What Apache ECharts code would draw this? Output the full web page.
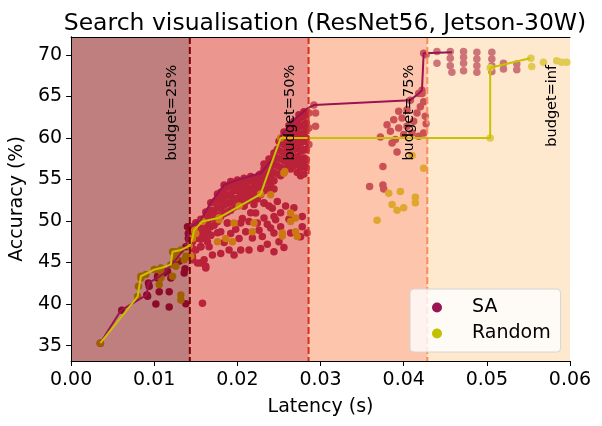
<!DOCTYPE html>
<html>
<head>
<meta charset="utf-8">
<script src="https://cdn.jsdelivr.net/npm/echarts@6/dist/echarts.min.js"></script>
<style>
  html, body { margin: 0; padding: 0; background: #fff; }
  #main { width: 602px; height: 426px; }
</style>
</head>
<body>
<div id="main"></div>
<script>
// points: [latency (s), accuracy (%)]
var saPoints = [
  [0.00352, 35.3], [0.0061, 39.25], [0.0091, 41.1], [0.0092, 40.95], [0.0102, 40.0], [0.0118, 39.65],
  [0.0118, 41.5], [0.0106, 41.5], [0.0138, 40.05], [0.0136, 43.75], [0.0137, 44.25], [0.0120, 43.15],
  [0.0104, 43.35], [0.0094, 42.15], [0.0093, 42.55], [0.0104, 43.15], [0.0112, 43.75], [0.0126, 45.35],
  [0.0138, 46.9], [0.0141, 48.5], [0.0140, 49.3], [0.0141, 47.9], [0.0116, 43.95], [0.0130, 45.15],
  [0.0144, 49.3], [0.0150, 49.8], [0.0156, 50.2], [0.0162, 51.1], [0.0168, 52.2], [0.0176, 53.25],
  [0.0184, 54.35], [0.0192, 54.75], [0.0200, 54.95], [0.0208, 55.15], [0.0216, 55.35], [0.0226, 55.55],
  [0.0232, 56.85], [0.0238, 57.45], [0.0244, 58.2], [0.0250, 59.6], [0.0256, 60.7], [0.0262, 61.5],
  [0.0268, 62.0], [0.0274, 62.8], [0.0280, 63.15],
  [0.0146, 48.5], [0.0146, 47.5], [0.0146, 46.7], [0.0146, 45.7],
  [0.0150, 48.9], [0.0150, 47.9], [0.0150, 46.5],
  [0.0156, 49.5], [0.0156, 48.6], [0.0156, 47.8], [0.0156, 46.9],
  [0.0160, 50.1], [0.0160, 49.1], [0.0160, 48.1],
  [0.0164, 50.7], [0.0164, 49.7], [0.0164, 48.8], [0.0164, 47.5],
  [0.0168, 51.3], [0.0168, 50.3], [0.0168, 49.3], [0.0168, 48.3],
  [0.0172, 52.3], [0.0172, 51.3], [0.0172, 50.5], [0.0172, 49.5],
  [0.0176, 52.7], [0.0176, 51.7], [0.0176, 50.7], [0.0176, 49.9],
  [0.0180, 53.45], [0.0180, 52.45], [0.0180, 51.5], [0.0180, 50.5], [0.0180, 48.7],
  [0.0184, 53.65], [0.0184, 52.85], [0.0184, 51.9], [0.0184, 50.9],
  [0.0188, 54.05], [0.0188, 53.05], [0.0188, 52.1], [0.0188, 51.1], [0.0188, 49.75],
  [0.0192, 54.25], [0.0192, 53.25], [0.0192, 52.3], [0.0192, 51.3],
  [0.0196, 54.45], [0.0196, 53.65], [0.0196, 52.65], [0.0196, 51.7],
  [0.0200, 54.55], [0.0200, 53.65], [0.0200, 52.75], [0.0200, 51.9],
  [0.0204, 54.65], [0.0204, 53.85], [0.0204, 53.05], [0.0204, 52.1], [0.0204, 49.75],
  [0.0208, 54.45], [0.0208, 53.65], [0.0208, 52.85], [0.0208, 51.8],
  [0.0212, 54.85], [0.0212, 54.05], [0.0212, 53.25], [0.0212, 52.45],
  [0.0216, 54.85], [0.0216, 53.85], [0.0216, 53.05],
  [0.0220, 55.05], [0.0220, 54.25], [0.0220, 53.45], [0.0220, 52.65], [0.0220, 52.0],
  [0.0224, 55.25], [0.0224, 54.45], [0.0224, 53.65], [0.0224, 52.65],
  [0.0228, 55.65], [0.0228, 54.85], [0.0228, 54.05], [0.0228, 53.15],
  [0.0232, 56.25], [0.0232, 55.45], [0.0232, 54.65], [0.0232, 53.65], [0.0232, 52.2],
  [0.0236, 56.65], [0.0236, 55.85], [0.0236, 54.85], [0.0236, 53.85],
  [0.0240, 57.25], [0.0240, 56.25], [0.0240, 55.45], [0.0240, 54.45],
  [0.0244, 57.8], [0.0244, 56.85], [0.0244, 55.85], [0.0244, 54.85], [0.0244, 53.85],
  [0.0248, 58.6], [0.0248, 57.6], [0.0248, 56.65], [0.0248, 55.65], [0.0248, 52.35],
  [0.0252, 59.4], [0.0252, 58.4], [0.0252, 57.45], [0.0252, 56.45], [0.0252, 55.45],
  [0.0256, 60.0], [0.0256, 59.2], [0.0256, 58.2], [0.0256, 57.25], [0.0256, 56.25],
  [0.0260, 60.6], [0.0260, 59.6], [0.0260, 58.6], [0.0260, 57.65], [0.0260, 56.65],
  [0.0264, 61.2], [0.0264, 60.2], [0.0264, 59.2], [0.0264, 58.2], [0.0264, 57.2], [0.0264, 56.25],
  [0.0268, 61.4], [0.0268, 60.6], [0.0268, 59.6], [0.0268, 58.6], [0.0268, 57.6], [0.0268, 56.65],
  [0.0272, 62.0], [0.0272, 61.0], [0.0272, 60.0], [0.0272, 59.0], [0.0272, 57.8], [0.0272, 56.85], [0.0272, 55.85],
  [0.0276, 62.4], [0.0276, 61.4], [0.0276, 60.4], [0.0276, 59.4], [0.0276, 58.4], [0.0276, 57.4], [0.0276, 56.45], [0.0276, 55.45],
  [0.0280, 62.6], [0.0280, 61.6], [0.0280, 60.6], [0.0280, 59.6], [0.0280, 58.6], [0.0280, 57.6], [0.0280, 56.65], [0.0280, 55.65],
  [0.0283, 62.8], [0.0283, 61.8], [0.0283, 61.0], [0.0283, 60.0], [0.0283, 58.6], [0.0283, 57.4], [0.0283, 56.45],
  [0.0286, 63.0], [0.0286, 61.2], [0.0286, 59.2], [0.0294, 63.0], [0.0294, 61.4], [0.0280, 58.55],
  [0.0222, 50.95], [0.0232, 50.35], [0.0242, 51.55], [0.0246, 50.15], [0.0240, 49.15], [0.0252, 49.3],
  [0.0264, 48.55], [0.0278, 50.55], [0.0278, 49.3], [0.0274, 48.15], [0.0244, 48.55], [0.0230, 48.15],
  [0.0218, 47.95], [0.0228, 46.7], [0.0244, 46.3], [0.0214, 46.5], [0.0204, 46.5], [0.0196, 45.9],
  [0.0202, 47.9], [0.0210, 48.7], [0.0190, 46.5], [0.0180, 46.1], [0.0170, 45.9], [0.0160, 45.35],
  [0.0162, 44.35], [0.0152, 44.95], [0.0156, 46.9], [0.0166, 46.9], [0.0154, 48.1], [0.0168, 48.3],
  [0.0192, 48.5], [0.0188, 49.75], [0.0214, 49.95], [0.0224, 49.75], [0.0208, 51.8], [0.0232, 52.15],
  [0.0258, 51.8], [0.0268, 51.6], [0.0252, 51.0], [0.0216, 51.0], [0.0158, 40.1], [0.0146, 45.35],
  [0.0156, 44.95], [0.0162, 44.55], [0.0244, 50.55], [0.0238, 51.8], [0.0284, 48.55], [0.0276, 48.1],
  [0.0176, 48.6], [0.0184, 47.4], [0.0198, 49.0], [0.0206, 50.3], [0.0226, 48.9], [0.0236, 49.6],
  [0.0250, 47.5], [0.0262, 50.2], [0.0236, 47.2], [0.0256, 46.8],
  [0.0292, 63.95], [0.0408, 64.55], [0.0418, 65.35], [0.0422, 65.75],
  [0.0422, 65.35], [0.0424, 64.35], [0.0420, 63.75], [0.0426, 62.6], [0.0427, 61.7], [0.0394, 63.2],
  [0.0404, 63.4], [0.0388, 62.2], [0.0380, 61.6], [0.0384, 60.8], [0.0394, 61.2], [0.0404, 61.4],
  [0.0410, 60.6], [0.0418, 60.2], [0.0372, 60.1], [0.0390, 59.8], [0.0392, 58.3], [0.0375, 56.55],
  [0.0359, 54.15], [0.0375, 54.35], [0.0376, 53.85], [0.0416, 63.0], [0.0398, 62.4], [0.0412, 62.0],
  [0.0424, 60.6], [0.0400, 60.4], [0.0386, 59.4],
  [0.0424, 70.2], [0.0427, 70.0], [0.0440, 70.4], [0.0440, 69.0], [0.0456, 70.4], [0.0456, 69.6],
  [0.0456, 68.7], [0.0458, 67.9], [0.0472, 70.4], [0.0472, 69.7], [0.0472, 69.0], [0.0472, 68.1],
  [0.0488, 70.3], [0.0488, 69.5], [0.0488, 68.7], [0.0488, 67.9], [0.0506, 70.3], [0.0506, 69.5],
  [0.0506, 68.7], [0.0506, 68.0], [0.0520, 69.0], [0.0520, 68.3], [0.0536, 68.9], [0.0536, 68.2]
];
var rndPoints = [
  [0.00352, 35.3], [0.0080, 40.9], [0.0081, 42.15], [0.0084, 43.15], [0.0084, 43.35], [0.0090, 43.55],
  [0.0100, 44.15], [0.0108, 43.95], [0.0108, 44.35], [0.0108, 43.15], [0.0106, 42.35], [0.0122, 43.35],
  [0.0120, 44.75], [0.0126, 44.55], [0.0126, 45.55], [0.0126, 46.3], [0.0122, 46.3], [0.0132, 46.5],
  [0.0136, 45.35], [0.0138, 45.75], [0.0132, 41.1], [0.0132, 40.5], [0.0142, 47.0], [0.0144, 45.75],
  [0.0142, 45.75], [0.0146, 47.9], [0.0148, 48.9], [0.0150, 48.5], [0.0158, 49.95], [0.0178, 50.4],
  [0.0178, 50.15], [0.0196, 49.75], [0.0202, 51.8], [0.0220, 49.75], [0.0218, 48.7], [0.0176, 47.5],
  [0.0186, 47.9], [0.0194, 47.5], [0.0228, 53.25], [0.0240, 53.15], [0.0252, 60.0], [0.0256, 55.75],
  [0.0257, 55.95], [0.0264, 50.95], [0.0270, 50.35], [0.0264, 49.95], [0.0254, 48.55], [0.0254, 48.2],
  [0.0272, 48.15], [0.0270, 48.7],
  [0.0410, 57.9], [0.0424, 56.35], [0.0382, 53.35], [0.0396, 53.55], [0.0414, 52.85], [0.0414, 52.2],
  [0.0386, 52.0], [0.0392, 51.3], [0.0400, 51.6], [0.0368, 50.1],
  [0.0504, 60.0], [0.0504, 68.45], [0.0553, 69.6], [0.0554, 68.6], [0.0568, 69.1], [0.0584, 69.3],
  [0.0590, 69.1], [0.0596, 69.1]
];
var saFront = [
  [0.00352, 35.3], [0.0060, 39.25], [0.0091, 41.1], [0.0093, 42.55], [0.0104, 43.15], [0.0112, 43.75],
  [0.0120, 44.75], [0.0126, 45.35], [0.0138, 46.9], [0.0141, 48.5], [0.0144, 49.3], [0.0156, 50.15],
  [0.0168, 52.2], [0.0184, 54.35], [0.0200, 54.95], [0.0228, 55.75], [0.0244, 57.7], [0.0252, 60.2],
  [0.0268, 62.2], [0.0284, 63.55], [0.0292, 63.95], [0.0408, 64.55], [0.0418, 65.35], [0.0422, 65.75],
  [0.0424, 70.2], [0.0458, 70.3]
];
var rndFront = [
  [0.00352, 35.3], [0.0080, 40.9], [0.0084, 43.35], [0.0100, 44.15], [0.0108, 44.35], [0.0120, 44.75],
  [0.0122, 46.3], [0.0132, 46.5], [0.0142, 47.0], [0.0146, 47.9], [0.0148, 48.9], [0.0158, 49.95],
  [0.0178, 50.4], [0.0228, 53.25], [0.0252, 60.0], [0.0504, 60.0], [0.0504, 68.45], [0.0552, 69.6]
];
var budgets = [0.01428, 0.02856, 0.04284];
var labelX = [0.01428, 0.02856, 0.04284, 0.06];
var budgetLabels = ['budget=25%', 'budget=50%', 'budget=75%', 'budget=inf'];
var yTicks = [35, 40, 45, 50, 55, 60, 65, 70];

var X_MIN = 0, X_MAX = 0.06, Y_MIN = 33.15, Y_MAX = 72.15;
var FONT = 'DejaVu Sans';
var bandColors = ['#7f0000', '#d7301f', '#fc8d59', '#fdd49e'];
var edges = [X_MIN].concat(budgets, [X_MAX]);
var bandData = [];
for (var i = 0; i < edges.length - 1; i++) bandData.push([edges[i], edges[i + 1]]);

var myChart = echarts.init(document.getElementById('main'));
var option = {
  animation: false,
  title: {
    text: 'Search visualisation (ResNet56, Jetson-30W)',
    left: 320, textAlign: 'center', top: 7,
    textStyle: { fontFamily: FONT, fontSize: 23.5, fontWeight: 'normal', color: '#000' }
  },
  legend: {
    orient: 'vertical', left: 410, top: 289, z: 20,
    data: [{ name: 'SA', icon: 'circle' }, { name: 'Random', icon: 'circle' }],
    itemWidth: 10, itemHeight: 10, itemGap: 7,
    padding: [9, 10, 9, 22],
    backgroundColor: 'rgba(255,255,255,0.8)', borderColor: '#d5d5d5', borderWidth: 1, borderRadius: 4,
    textStyle: { fontFamily: FONT, fontSize: 19, color: '#000', padding: [0, 0, 0, 25] }
  },
  grid: { left: 70, right: 32, top: 37, bottom: 65 },
  xAxis: [{
    type: 'value', min: X_MIN, max: X_MAX, interval: 0.01, z: 10,
    name: 'Latency (s)', nameLocation: 'middle', nameGap: 37,
    nameTextStyle: { fontFamily: FONT, fontSize: 19, color: '#000' },
    axisLine: { lineStyle: { color: '#000', width: 1 } },
    axisTick: { lineStyle: { color: '#000' }, length: 5 },
    axisLabel: { fontFamily: FONT, fontSize: 19, color: '#000', margin: 10, formatter: function (v) { return v.toFixed(2); } },
    splitLine: { show: false }
  }, {
    type: 'value', position: 'top', min: X_MIN, max: X_MAX, z: 10,
    axisLine: { show: true, lineStyle: { color: '#000', width: 1 } },
    axisTick: { show: false }, axisLabel: { show: false }, splitLine: { show: false }
  }],
  yAxis: [{
    type: 'value', min: Y_MIN, max: Y_MAX, z: 10,
    name: 'Accuracy (%)', nameLocation: 'middle', nameGap: 34,
    nameTextStyle: { fontFamily: FONT, fontSize: 19, color: '#000' },
    axisLine: { show: true, lineStyle: { color: '#000', width: 1 } },
    axisTick: { show: true, lineStyle: { color: '#000' }, length: 5, customValues: yTicks },
    axisLabel: { fontFamily: FONT, fontSize: 19, color: '#000', margin: 9, customValues: yTicks },
    splitLine: { show: false }
  }, {
    type: 'value', position: 'right', min: Y_MIN, max: Y_MAX, z: 10,
    axisLine: { show: true, lineStyle: { color: '#000', width: 1 } },
    axisTick: { show: false }, axisLabel: { show: false }, splitLine: { show: false }
  }],
  series: [
    {
      name: 'SA', type: 'scatter', z: 2, data: saPoints, symbolSize: 7.5,
      itemStyle: { color: '#9a1453', opacity: 1 }
    },
    {
      name: 'Random', type: 'scatter', z: 3, data: rndPoints, symbolSize: 7.5,
      itemStyle: { color: '#c2c000', opacity: 1 }
    },
    {
      name: 'bands', type: 'custom', z: 4, silent: true, data: bandData,
      encode: { x: [0, 1] },
      renderItem: function (params, api) {
        var p0 = api.coord([api.value(0), Y_MAX]);
        var p1 = api.coord([api.value(1), Y_MIN]);
        return {
          type: 'rect',
          shape: { x: p0[0], y: p0[1], width: p1[0] - p0[0], height: p1[1] - p0[1] },
          style: { fill: bandColors[params.dataIndex], opacity: 0.5 }
        };
      }
    },
    {
      name: 'SA front', type: 'line', z: 5, data: saFront, showSymbol: false,
      lineStyle: { color: '#9a1453', width: 2 }, itemStyle: { color: '#9a1453' }
    },
    {
      name: 'Random front', type: 'line', z: 6, data: rndFront, showSymbol: false,
      lineStyle: { color: '#c8c300', width: 2 }, itemStyle: { color: '#c8c300' }
    },
    {
      name: 'budget lines', type: 'custom', z: 7, silent: true,
      data: budgets.map(function (b) { return [b]; }),
      encode: { x: 0 },
      renderItem: function (params, api) {
        var top = api.coord([api.value(0), Y_MAX]);
        var bot = api.coord([api.value(0), Y_MIN]);
        return {
          type: 'line',
          shape: { x1: top[0], y1: top[1], x2: bot[0], y2: bot[1] },
          style: { stroke: bandColors[params.dataIndex], lineWidth: 2, lineDash: [7, 3] }
        };
      }
    },
    {
      name: 'budget labels', type: 'custom', z: 8, silent: true,
      data: labelX.map(function (x) { return [x]; }),
      encode: { x: 0 },
      renderItem: function (params, api) {
        var p = api.coord([api.value(0), 68.8]);
        return {
          type: 'text',
          x: p[0] - 18, y: p[1], rotation: Math.PI / 2,
          style: {
            text: budgetLabels[params.dataIndex], fontFamily: FONT, fontSize: 14.5,
            fill: '#000', align: 'right', verticalAlign: 'middle'
          }
        };
      }
    }
  ]
};
myChart.setOption(option);
</script>
</body>
</html>
